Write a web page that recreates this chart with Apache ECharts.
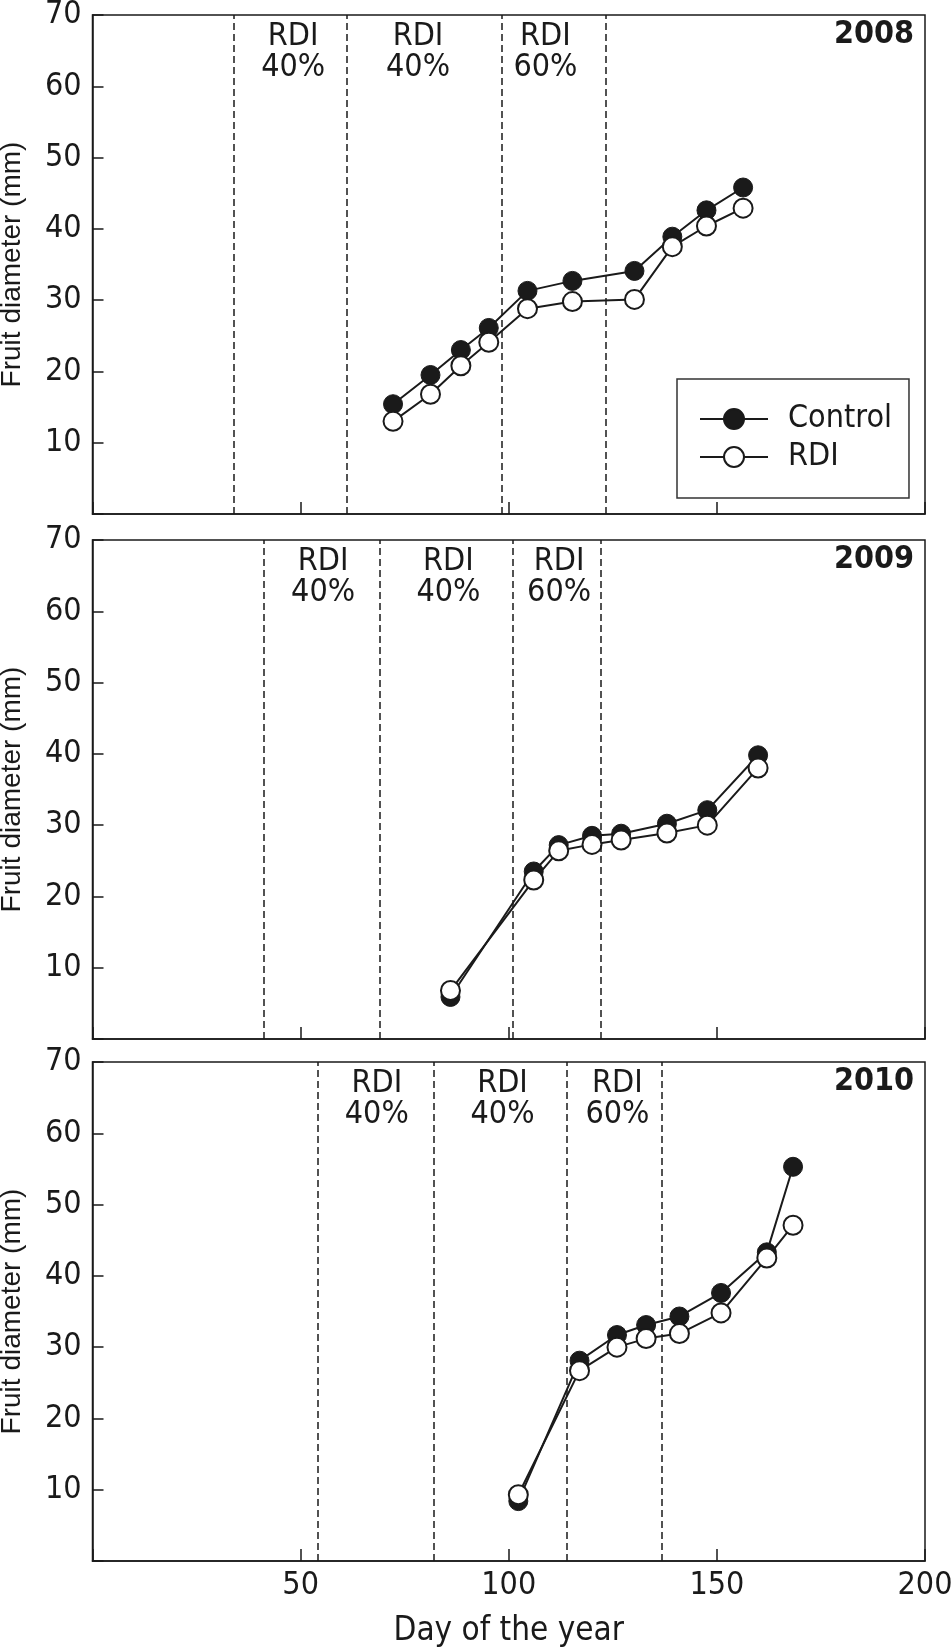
<!DOCTYPE html>
<html lang="en">
<head>
<meta charset="UTF-8">
<title>Fruit diameter</title>
<script src="https://cdn.jsdelivr.net/npm/echarts@6/dist/echarts.min.js"></script>
<style>
  html, body { margin: 0; padding: 0; background: #fff; }
  #chart { width: 952px; height: 1648px; }
</style>
</head>
<body>
<div id="chart"></div>
<script>
// measurement dates (day of the year) and fruit diameter (mm)
var days2008 = [72.2, 81.2, 88.5, 95.2, 104.5, 115.3, 130.2, 139.3, 147.5, 156.3];
var control2008 = [15.4, 19.5, 23.0, 26.1, 31.3, 32.7, 34.1, 38.9, 42.6, 45.8];
var rdi2008 = [13.0, 16.8, 20.8, 24.1, 28.8, 29.8, 30.1, 37.5, 40.4, 42.9];

var days2009 = [86.0, 106.0, 112.0, 120.0, 127.0, 138.0, 147.7, 159.9];
var control2009 = [5.9, 23.5, 27.2, 28.5, 28.8, 30.2, 32.1, 39.8];
var rdi2009 = [6.8, 22.3, 26.4, 27.3, 27.9, 28.9, 30.0, 38.0];

var days2010 = [102.3, 117.0, 126.0, 133.0, 141.0, 151.0, 162.0, 168.3];
var control2010 = [8.4, 28.1, 31.7, 33.1, 34.3, 37.6, 43.3, 55.3];
var rdi2010 = [9.3, 26.7, 30.0, 31.2, 31.9, 34.8, 42.5, 47.1];

// limits of the deficit periods (dashed lines)
var bounds2008 = [34.0, 61.1, 98.4, 123.3];
var bounds2009 = [41.2, 69.0, 101.0, 122.0];
var bounds2010 = [54.0, 82.0, 113.9, 136.8];

// centre of each period label
var labelDays2008 = [48.2, 78.2, 108.8];
var labelDays2009 = [55.4, 85.5, 112.1];
var labelDays2010 = [68.3, 98.5, 126.1];
var periodLabels = ['RDI\n40%', 'RDI\n40%', 'RDI\n60%'];
var labelLevel = 64.8;

var years = ['2008', '2009', '2010'];

var panels = [
  { year: years[0], days: days2008, control: control2008, rdi: rdi2008, bounds: bounds2008, labelDays: labelDays2008 },
  { year: years[1], days: days2009, control: control2009, rdi: rdi2009, bounds: bounds2009, labelDays: labelDays2009 },
  { year: years[2], days: days2010, control: control2010, rdi: rdi2010, bounds: bounds2010, labelDays: labelDays2010 }
];

var ink = '#1a1a1a';
var narrow = "'Liberation Sans Narrow', 'DejaVu Sans Condensed', 'Arial Narrow', sans-serif";
var panelTops = [15, 540, 1062];
var panelHeight = 499;

function pairs(xs, ys) {
  return xs.map(function (x, i) { return [x, ys[i]]; });
}

var grid = [], xAxis = [], yAxis = [], series = [], title = [];

panels.forEach(function (p, i) {
  grid.push({
    left: 92.5, right: 27, top: panelTops[i], height: panelHeight,
    outerBoundsMode: 'none',
    show: true, borderColor: ink, borderWidth: 1.5, backgroundColor: '#fff'
  });

  xAxis.push({
    gridIndex: i, type: 'value', min: 0, max: 200, interval: 50,
    axisLine: { show: true, lineStyle: { color: ink, width: 1.5 } },
    axisTick: { show: true, inside: true, length: 12, lineStyle: { color: ink, width: 1.5 } },
    axisLabel: {
      show: i === 2, margin: 9, color: ink, fontSize: 32, fontFamily: narrow,
      alignMinLabel: 'center', alignMaxLabel: 'center',
      formatter: function (v) { return v === 0 ? '' : v; }
    },
    splitLine: { show: false },
    name: i === 2 ? 'Day of the year' : '',
    nameLocation: 'middle', nameGap: 54,
    nameTextStyle: { color: ink, fontSize: 33, fontFamily: narrow }
  });

  yAxis.push({
    gridIndex: i, type: 'value', min: 0, max: 70, interval: 10,
    axisLine: { show: true, lineStyle: { color: ink, width: 1.5 } },
    axisTick: { show: true, inside: true, length: 11, lineStyle: { color: ink, width: 1.5 } },
    axisLabel: {
      margin: 11, color: ink, fontSize: 32, fontFamily: narrow,
      formatter: function (v) { return v === 0 ? '' : v; }
    },
    splitLine: { show: false },
    name: 'Fruit diameter (mm)', nameLocation: 'middle', nameGap: 66,
    nameTextStyle: { color: ink, fontSize: 28, fontFamily: "'Liberation Sans', Arial, sans-serif" }
  });

  // period labels + dashed limits, kept underneath the data
  series.push({
    type: 'scatter', xAxisIndex: i, yAxisIndex: i, silent: true, z: 1,
    symbolSize: 1, itemStyle: { color: 'rgba(0,0,0,0)', opacity: 1 },
    data: p.labelDays.map(function (d, k) { return [d, labelLevel, periodLabels[k]]; }),
    label: {
      show: true, position: 'inside', color: ink, opacity: 1, fontSize: 32, lineHeight: 30.5,
      fontFamily: narrow, formatter: function (q) { return q.data[2]; }
    },
    markLine: {
      silent: true, symbol: ['none', 'none'], label: { show: false },
      lineStyle: { color: ink, width: 1.5, type: [7, 4] },
      data: p.bounds.map(function (b) { return { xAxis: b }; })
    }
  });

  series.push({
    name: 'Control', type: 'line', xAxisIndex: i, yAxisIndex: i, z: 2,
    data: pairs(p.days, p.control),
    symbol: 'circle', symbolSize: 19,
    lineStyle: { color: ink, width: 2 },
    itemStyle: { color: ink, borderColor: ink, borderWidth: 1 }
  });

  series.push({
    name: 'RDI', type: 'line', xAxisIndex: i, yAxisIndex: i, z: 3,
    data: pairs(p.days, p.rdi),
    symbol: 'circle', symbolSize: 19,
    lineStyle: { color: ink, width: 2 },
    itemStyle: { color: '#fff', borderColor: ink, borderWidth: 2 }
  });

  title.push({
    text: p.year, right: 38, top: panelTops[i] + 4, padding: 0,
    textStyle: { color: ink, fontSize: 32, fontWeight: 'bold', fontFamily: narrow }
  });
});

var myChart = echarts.init(document.getElementById('chart'), null, { renderer: 'canvas' });
myChart.setOption({
  animation: false,
  backgroundColor: '#fff',
  title: title,
  legend: {
    data: ['Control', 'RDI'], orient: 'vertical', left: 677, top: 379,
    itemWidth: 68, itemHeight: 25, itemGap: 6,
    padding: [24, 17, 25, 22],
    borderColor: '#333', borderWidth: 1.5, backgroundColor: '#fff',
    selectedMode: false,
    textStyle: { color: ink, fontSize: 32, lineHeight: 32, fontFamily: narrow, padding: [0, 0, 0, 15] }
  },
  grid: grid,
  xAxis: xAxis,
  yAxis: yAxis,
  series: series
});
</script>
</body>
</html>
